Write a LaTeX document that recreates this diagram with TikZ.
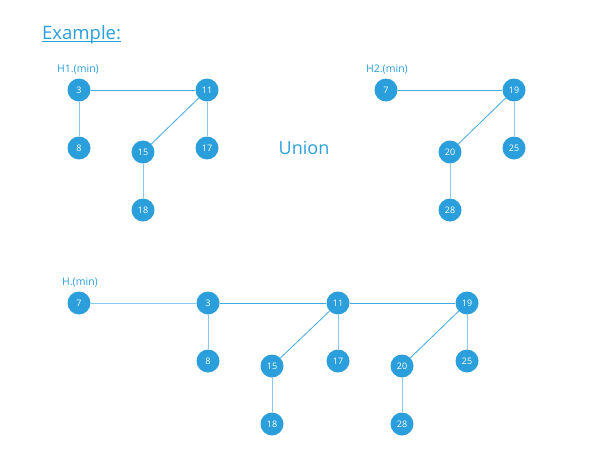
\documentclass[tikz,border=0pt]{standalone}
\usepackage{fontspec}
\setmainfont{Open Sans}
\definecolor{nodeblue}{HTML}{2A9FDC}
\definecolor{lineblue}{HTML}{3FAAE2}
\definecolor{lightline}{HTML}{86CBEE}
\begin{document}
\begin{tikzpicture}[x=1pt,y=-1pt,
  hn/.style={circle,fill=nodeblue,minimum size=23pt,inner sep=0pt,text=white,font=\fontsize{9}{10}\selectfont},
  edge/.style={draw=lineblue,line width=0.8pt},
  vedge/.style={draw=lightline,line width=1pt},
  lbl/.style={text=nodeblue,font=\fontsize{10.5}{12}\selectfont}]
\useasboundingbox (0,0) rectangle (597,458);
\node[text=nodeblue,font=\fontsize{18.5}{20}\selectfont,anchor=base west,inner sep=0pt] (ex) at (42,39) {Example:};
\draw[nodeblue,line width=0.9pt] (ex.base west) ++(0,2.5) -- ([yshift=-2.5pt]ex.base east);
\node[lbl] (l1) at (78,69) {H1.(min)};
\node[lbl] (l2) at (387,69) {H2.(min)};
\node[lbl] (l3) at (80,282) {H.(min)};
\node[text=nodeblue,font=\fontsize{18}{20}\selectfont] (un) at (304,148) {Union};
% H1
\node[hn] (a3) at (79,90) {3};
\node[hn] (a11) at (207,90) {11};
\node[hn] (a8) at (79,148) {8};
\node[hn] (a15) at (143,152) {15};
\node[hn] (a17) at (207,148) {17};
\node[hn] (a18) at (143,210) {18};
% H2
\node[hn] (b7) at (386,90) {7};
\node[hn] (b19) at (514,90) {19};
\node[hn] (b20) at (450,152) {20};
\node[hn] (b25) at (514,148) {25};
\node[hn] (b28) at (450,210) {28};
% H
\node[hn] (c7) at (79,303) {7};
\node[hn] (c3) at (208,303) {3};
\node[hn] (c11) at (338,303) {11};
\node[hn] (c19) at (467,303) {19};
\node[hn] (c8) at (208,361) {8};
\node[hn] (c15) at (272,366) {15};
\node[hn] (c17) at (338,361) {17};
\node[hn] (c20) at (402,366) {20};
\node[hn] (c25) at (467,361) {25};
\node[hn] (c18) at (272,424) {18};
\node[hn] (c28) at (402,424) {28};
\draw[edge] (a3) -- (a11);
\draw[vedge] (a3) -- (a8);
\draw[edge] (a11) -- (a15);
\draw[vedge] (a11) -- (a17);
\draw[vedge] (a15) -- (a18);
\draw[edge] (b7) -- (b19);
\draw[edge] (b19) -- (b20);
\draw[vedge] (b19) -- (b25);
\draw[vedge] (b20) -- (b28);
\draw[vedge] (c7) -- (c3);
\draw[edge] (c3) -- (c11);
\draw[edge] (c11) -- (c19);
\draw[vedge] (c3) -- (c8);
\draw[edge] (c11) -- (c15);
\draw[vedge] (c11) -- (c17);
\draw[edge] (c19) -- (c20);
\draw[vedge] (c19) -- (c25);
\draw[vedge] (c15) -- (c18);
\draw[vedge] (c20) -- (c28);
\end{tikzpicture}
\end{document}
